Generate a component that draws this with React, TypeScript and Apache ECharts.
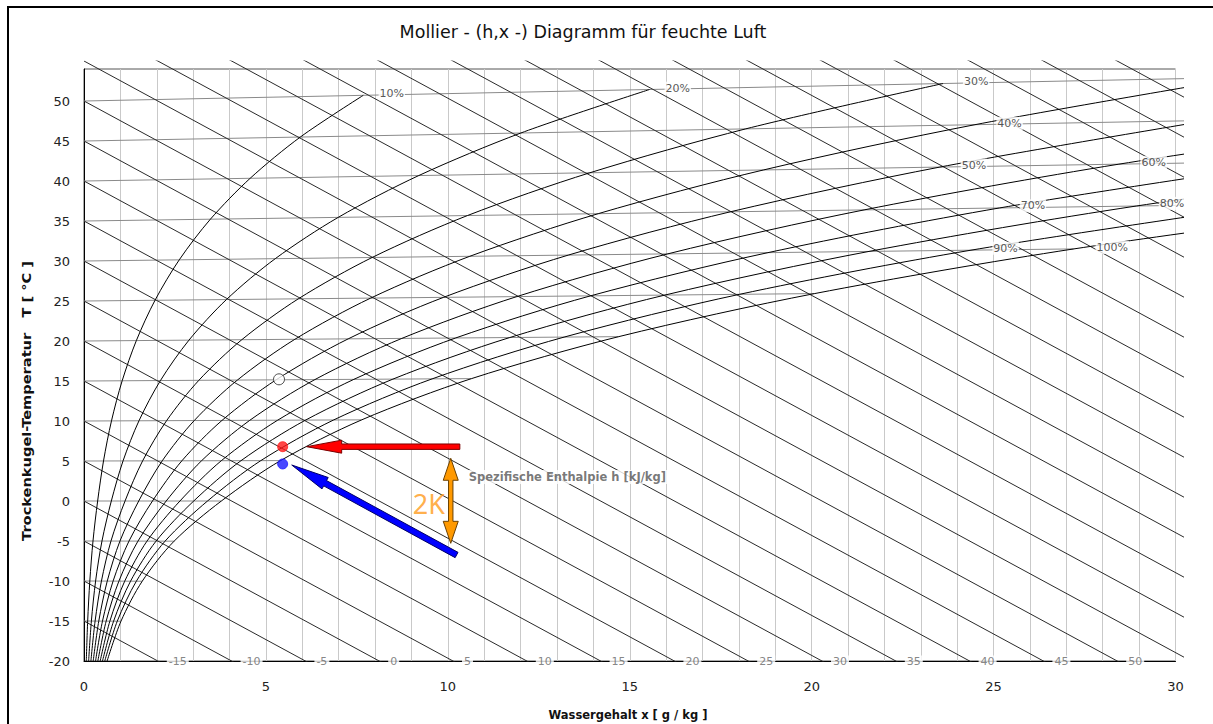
import React, { useEffect, useRef } from 'react';
import * as echarts from 'echarts';

// ---- data ----
const temps = [-20, -15, -10, -5, 0, 5, 10, 15, 20, 25, 30, 35, 40, 45, 50];
// water content x [g/kg] of each relative-humidity curve at the temperatures above
const rh10 = [0.063, 0.101, 0.16, 0.247, 0.375, 0.536, 0.755, 1.049, 1.439, 1.952, 2.618, 3.474, 4.567, 5.946, 7.676];
const rh20 = [0.127, 0.203, 0.319, 0.494, 0.751, 1.073, 1.511, 2.101, 2.885, 3.915, 5.257, 6.987, 9.201, 12.007, 15.544];
const rh30 = [0.19, 0.305, 0.479, 0.741, 1.128, 1.611, 2.27, 3.157, 4.337, 5.891, 7.919, 10.54, 13.904, 18.186, 23.611];
const rh40 = [0.253, 0.406, 0.639, 0.988, 1.504, 2.15, 3.03, 4.216, 5.796, 7.88, 10.604, 14.133, 18.677, 24.488, 31.886];
const rh50 = [0.317, 0.508, 0.799, 1.236, 1.882, 2.69, 3.792, 5.28, 7.262, 9.881, 13.312, 17.767, 23.524, 30.914];
const rh60 = [0.38, 0.609, 0.959, 1.483, 2.259, 3.231, 4.556, 6.346, 8.735, 11.895, 16.043, 21.442, 28.444, 37.469];
const rh70 = [0.444, 0.711, 1.119, 1.731, 2.637, 3.773, 5.322, 7.417, 10.215, 13.922, 18.797, 25.161, 33.442];
const rh80 = [0.507, 0.813, 1.279, 1.98, 3.016, 4.315, 6.09, 8.49, 11.702, 15.962, 21.576, 28.923, 38.512];
const rh90 = [0.57, 0.914, 1.439, 2.228, 3.395, 4.859, 6.86, 9.568, 13.196, 18.015, 24.379, 32.728];
const rh100 = [0.634, 1.016, 1.6, 2.476, 3.775, 5.403, 7.631, 10.649, 14.696, 20.082, 27.205, 36.579];
const rhCurves = [rh10, rh20, rh30, rh40, rh50, rh60, rh70, rh80, rh90, rh100];
const rhNames = ['10%', '20%', '30%', '40%', '50%', '60%', '70%', '80%', '90%', '100%'];
const rhLabelX = [8.46, 16.32, 24.52, 25.44, 24.46, 29.4, 26.08, 29.9, 25.33, 28.26];
const rhLabelY = [50.9, 51.6, 52.4, 47.2, 42.0, 42.3, 36.9, 37.2, 31.6, 31.7];

const isoTemps = [-15, -10, -5, 0, 5, 10, 15, 20, 25, 30, 35, 40, 45, 50];
const enthalpies = [-15, -10, -5, 0, 5, 10, 15, 20, 25, 30, 35, 40, 45, 50, 55, 60, 65, 70, 75, 80, 85, 90, 95, 100, 105, 110, 115, 120, 125];
const enthalpyTickLabels = [-15, -10, -5, 0, 5, 10, 15, 20, 25, 30, 35, 40, 45, 50];

// chart skew of the Mollier diagram (isotherm rise per g/kg, isenthalpe drop per g/kg)
const ISO_SKEW = 0.00185;
const H_SLOPE = 2.465;

// marked states: red, blue, open circle
const stateX = [5.46, 5.46, 5.36];
const stateY = [6.79, 4.63, 15.21];

// arrows: tail -> tip
const arrowTailX = [10.33, 10.24, 10.08];
const arrowTailY = [6.79, -6.75, -5.29];
const arrowTipX = [6.12, 5.71, 10.08];
const arrowTipY = [6.79, 4.5, 5.34];
const arrowDouble = [0, 0, 1];

const annoText = ['Spezifische Enthalpie h [kJ/kg]', '2K'];
const annoX = [10.52, 9.48];
const annoY = [3.0, -0.25];

// ---- styles ----
const FONT = 'DejaVu Sans';
const arrowFill = ['#ff0000', '#0000ff', '#ff9900'];
const arrowStroke = ['#7a0000', '#000066', '#6b4000'];
const arrowDims = [
  [2.7, 6.5, 35],
  [3, 6.5, 38],
  [2.2, 7.5, 22],
];
const stateFill = ['#ff1a1a', '#1a1aff', '#ffffff'];
const stateBorder = ['#ff1a1a', '#1a1aff', '#222222'];

const yOf = (t: number, x: number) => t * (1 + ISO_SKEW * x);

export default function App() {
  const ref = useRef<HTMLDivElement>(null);
  useEffect(() => {
    if (!ref.current) return;
    const chart = echarts.init(ref.current, undefined, { renderer: 'svg' });

    const series: any[] = [];
    // isotherms
    isoTemps.forEach((t) => {
      const idx = temps.indexOf(t);
      const xs = idx >= 0 && rh100[idx] !== undefined ? rh100[idx] : 40;
      series.push({
        type: 'line', xAxisIndex: 1, yAxisIndex: 1, symbol: 'none', silent: true, z: 2,
        lineStyle: { color: '#8a8a8a', width: 1 },
        data: [[0, t], [xs, yOf(t, xs)]],
      });
    });
    // isenthalpes
    enthalpies.forEach((h) => {
      series.push({
        type: 'line', xAxisIndex: 1, yAxisIndex: 1, symbol: 'none', silent: true, z: 3,
        lineStyle: { color: '#2a2a2a', width: 1 },
        data: [[0, h], [40, h - 40 * H_SLOPE]],
      });
    });
    // relative humidity curves
    rhCurves.forEach((arr) => {
      series.push({
        type: 'line', xAxisIndex: 1, yAxisIndex: 1, symbol: 'none', silent: true, z: 4,
        smooth: 0.3,
        lineStyle: { color: '#000', width: 1 },
        data: arr.map((x, i) => [x, yOf(temps[i], x)]),
      });
    });
    // RH labels
    const rhLabel = {
      show: true, position: 'inside', formatter: '{b}', color: '#2a2a2a', textBorderWidth: 0,
      fontSize: 11, fontFamily: FONT, backgroundColor: '#fff', padding: [1, 1],
    };
    series.push({
      type: 'scatter', xAxisIndex: 1, yAxisIndex: 1, z: 6, clip: false, silent: true,
      symbolSize: 1, itemStyle: { color: 'rgba(0,0,0,0)' },
      data: rhNames.map((n, i) => ({ name: n, value: [rhLabelX[i], rhLabelY[i]], label: rhLabel })),
    });
    // enthalpy labels on bottom axis
    const hLabel = {
      show: true, position: 'right', distance: 9, formatter: '{b}', color: '#666', textBorderWidth: 0,
      fontSize: 11, fontFamily: FONT, backgroundColor: '#fff', padding: [0, 2],
    };
    series.push({
      type: 'scatter', xAxisIndex: 1, yAxisIndex: 1, z: 6, clip: false, silent: true,
      symbolSize: 0, itemStyle: { color: 'rgba(0,0,0,0)' },
      data: enthalpyTickLabels.map((h) => ({ name: String(h), value: [(h + 20) / H_SLOPE, -20], label: hLabel })),
    });
    // annotations
    series.push({
      type: 'scatter', xAxisIndex: 1, yAxisIndex: 1, z: 7, clip: false, silent: true,
      symbolSize: 0, itemStyle: { color: 'rgba(0,0,0,0)' },
      data: [
        {
          name: annoText[0], value: [annoX[0], annoY[0]],
          label: { show: true, position: 'right', distance: 0, formatter: '{b}', color: '#555', fontSize: 11.5, fontWeight: 'bold', fontFamily: FONT, backgroundColor: '#fff', padding: [1, 2] },
        },
        {
          name: annoText[1], value: [annoX[1], annoY[1]],
          label: { show: true, position: 'inside', formatter: '{b}', color: '#ff9a1a', fontSize: 27, fontFamily: 'Noto Sans' },
        },
      ],
    });
    // arrows
    series.push({
      type: 'custom', xAxisIndex: 1, yAxisIndex: 1, z: 8, clip: false, silent: true,
      encode: { x: [0, 2], y: [1, 3] },
      data: arrowTailX.map((x, i) => [x, arrowTailY[i], arrowTipX[i], arrowTipY[i]]),
      renderItem: (params: any, api: any) => {
        const i = params.dataIndex;
        const a = api.coord([api.value(0), api.value(1)]);
        const b = api.coord([api.value(2), api.value(3)]);
        const dx = b[0] - a[0];
        const dy = b[1] - a[1];
        const len = Math.hypot(dx, dy);
        const ux = dx / len, uy = dy / len;
        const nx = -uy, ny = ux;
        const [w, hw, hl] = arrowDims[i];
        const pts: number[][] = [];
        if (arrowDouble[i]) {
          pts.push([a[0], a[1]]);
          pts.push([a[0] + ux * hl + nx * hw, a[1] + uy * hl + ny * hw]);
          pts.push([a[0] + ux * hl + nx * w, a[1] + uy * hl + ny * w]);
        } else {
          pts.push([a[0] + nx * w, a[1] + ny * w]);
        }
        pts.push([b[0] - ux * hl + nx * w, b[1] - uy * hl + ny * w]);
        pts.push([b[0] - ux * hl + nx * hw, b[1] - uy * hl + ny * hw]);
        pts.push([b[0], b[1]]);
        pts.push([b[0] - ux * hl - nx * hw, b[1] - uy * hl - ny * hw]);
        pts.push([b[0] - ux * hl - nx * w, b[1] - uy * hl - ny * w]);
        if (arrowDouble[i]) {
          pts.push([a[0] + ux * hl - nx * w, a[1] + uy * hl - ny * w]);
          pts.push([a[0] + ux * hl - nx * hw, a[1] + uy * hl - ny * hw]);
        } else {
          pts.push([a[0] - nx * w, a[1] - ny * w]);
        }
        return {
          type: 'polygon',
          shape: { points: pts },
          style: { fill: arrowFill[i], stroke: arrowStroke[i], lineWidth: 1 },
        };
      },
    });
    // state points
    series.push({
      type: 'scatter', xAxisIndex: 1, yAxisIndex: 1, z: 9, clip: false, silent: true,
      data: stateX.map((x, i) => ({
        value: [x, stateY[i]],
        symbolSize: i === 2 ? 11 : 10,
        itemStyle: { color: stateFill[i], borderColor: stateBorder[i], borderWidth: 1 },
      })),
    });

    const option: any = {
      animation: false,
      backgroundColor: '#fff',
      textStyle: { fontFamily: FONT },
      grid: [
        {
          left: 84, top: 69, width: 1091.5, height: 592, show: true,
          borderColor: '#555', borderWidth: 1, backgroundColor: 'transparent',
          containLabel: false, outerBoundsMode: 'none',
        },
        {
          left: 84, top: 61, width: 1091.5 * 30.2 / 30, height: 600, show: false,
          containLabel: false, outerBoundsMode: 'none',
        },
      ],
      xAxis: [
        {
          type: 'value', gridIndex: 0, min: 0, max: 30, interval: 1,
          axisLine: { show: true, onZero: false, lineStyle: { color: '#000', width: 1 } },
          axisTick: { show: false },
          splitLine: { show: true, lineStyle: { color: '#c9c9c9', width: 1 } },
          axisLabel: {
            margin: 19, color: '#222', fontSize: 13, fontFamily: FONT,
            formatter: (v: number) => (v % 5 === 0 ? String(v) : ''),
          },
        },
        { type: 'value', gridIndex: 1, min: 0, max: 30.2, show: false, splitLine: { show: false } },
      ],
      yAxis: [
        {
          type: 'value', gridIndex: 0, min: -20, max: 54, interval: 5,
          axisLine: { show: true, onZero: false, lineStyle: { color: '#000', width: 1 } },
          axisTick: { show: false },
          splitLine: { show: false },
          axisLabel: {
            margin: 14, color: '#222', fontSize: 13, fontFamily: FONT,
            formatter: (v: number) => (v % 5 === 0 ? String(v) : ''),
          },
        },
        { type: 'value', gridIndex: 1, min: -20, max: 55, show: false, splitLine: { show: false } },
      ],
      graphic: [
        {
          type: 'rect', z: 100, silent: true,
          shape: { x: 8, y: 7, width: 1300, height: 800 },
          style: { fill: 'none', stroke: '#000', lineWidth: 2 },
        },
        {
          type: 'text', x: 583, y: 32, silent: true,
          style: {
            text: 'Mollier - (h,x -) Diagramm für feuchte Luft',
            font: '17.5px "DejaVu Sans"', fill: '#111',
            textAlign: 'center', textVerticalAlign: 'middle', align: 'center', verticalAlign: 'middle',
          },
        },
        {
          type: 'text', x: 628, y: 715, silent: true,
          style: {
            text: 'Wassergehalt x [ g / kg ]',
            font: 'bold 11.5px "DejaVu Sans"', fill: '#111',
            textAlign: 'center', textVerticalAlign: 'middle', align: 'center', verticalAlign: 'middle',
          },
        },
        {
          type: 'text', x: 27, y: 401, rotation: Math.PI / 2, scaleX: 1.27, silent: true,
          style: {
            text: 'Trockenkugel-Temperatur   T [ °C ]',
            font: 'bold 11.5px "DejaVu Sans"', fill: '#111',
            textAlign: 'center', textVerticalAlign: 'middle', align: 'center', verticalAlign: 'middle',
          },
        },
      ],
      series,
    };
    chart.setOption(option);
    return () => chart.dispose();
  }, []);
  return (
    <div
      ref={ref}
      style={{ position: 'fixed', left: 0, top: 0, width: 1213, height: 724, background: '#fff' }}
    />
  );
}
